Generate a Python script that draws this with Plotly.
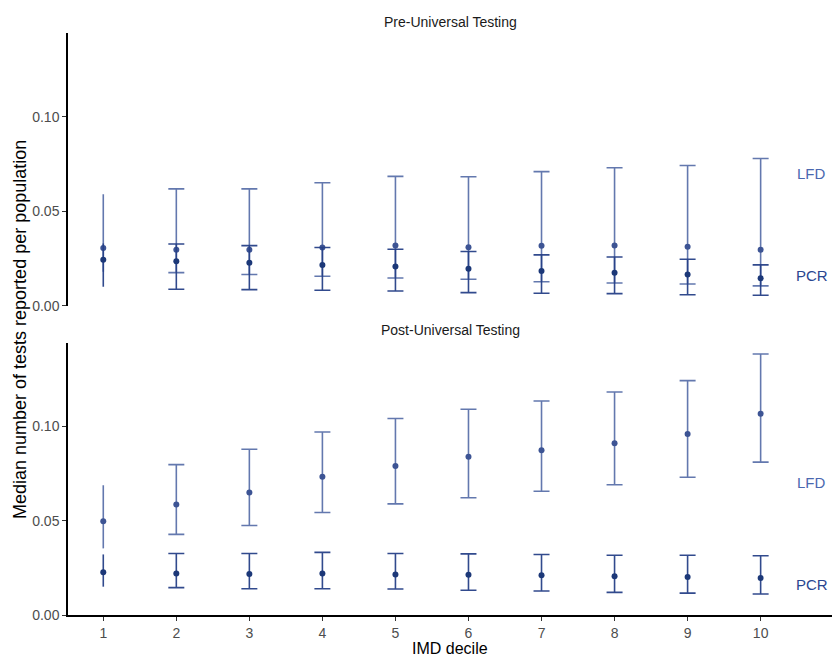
import plotly.graph_objects as go

deciles = [1, 2, 3, 4, 5, 6, 7, 8, 9, 10]
tick_labels = ["1", "2", "3", "4", "5", "6", "7", "8", "9", "10"]

# Pre-Universal Testing
pre_lfd_med = [0.0305, 0.0296, 0.0296, 0.0308, 0.0319, 0.0310, 0.0317, 0.0319, 0.0312, 0.0297]
pre_lfd_lo = [0.0180, 0.0175, 0.0165, 0.0156, 0.0147, 0.0140, 0.0127, 0.0120, 0.0115, 0.0105]
pre_lfd_hi = [0.0591, 0.0619, 0.0619, 0.0651, 0.0685, 0.0683, 0.0710, 0.0731, 0.0743, 0.0780]
pre_pcr_med = [0.0243, 0.0236, 0.0227, 0.0216, 0.0207, 0.0196, 0.0184, 0.0175, 0.0165, 0.0145]
pre_pcr_lo = [0.0101, 0.0087, 0.0085, 0.0082, 0.0078, 0.0069, 0.0066, 0.0064, 0.0058, 0.0055]
pre_pcr_hi = [0.0330, 0.0327, 0.0318, 0.0308, 0.0299, 0.0287, 0.0269, 0.0258, 0.0246, 0.0216]

# Post-Universal Testing
post_lfd_med = [0.0497, 0.0586, 0.0649, 0.0732, 0.0790, 0.0838, 0.0873, 0.0910, 0.0959, 0.1067]
post_lfd_lo = [0.0353, 0.0427, 0.0474, 0.0543, 0.0589, 0.0621, 0.0656, 0.0690, 0.0730, 0.0810]
post_lfd_hi = [0.0688, 0.0797, 0.0878, 0.0970, 0.1041, 0.1090, 0.1134, 0.1182, 0.1242, 0.1383]
post_pcr_med = [0.0226, 0.0220, 0.0217, 0.0220, 0.0215, 0.0213, 0.0210, 0.0205, 0.0201, 0.0196]
post_pcr_lo = [0.0150, 0.0145, 0.0139, 0.0139, 0.0138, 0.0131, 0.0127, 0.0120, 0.0116, 0.0111]
post_pcr_hi = [0.0321, 0.0326, 0.0326, 0.0332, 0.0326, 0.0324, 0.0321, 0.0317, 0.0317, 0.0314]

series_labels = ["LFD", "PCR"]
label_y = [0.070, 0.016]
label_x = 10.7

LFD_BAR = "rgba(72,96,160,0.85)"
LFD_PT = "#3d5494"
PCR_BAR = "rgba(38,64,135,0.95)"
PCR_PT = "#1c3878"

fig = go.Figure()


def add_series(med, lo, hi, xa, ya, bar_col, pt_col):
    for idx_set, w in (([0], 0), (list(range(1, len(deciles))), 8)):
        xs = [deciles[i] for i in idx_set]
        ys = [med[i] for i in idx_set]
        plus = [hi[i] - med[i] for i in idx_set]
        minus = [med[i] - lo[i] for i in idx_set]
        fig.add_trace(go.Scatter(
            x=xs, y=ys, mode="markers", xaxis=xa, yaxis=ya,
            marker=dict(color=pt_col, size=6),
            error_y=dict(type="data", symmetric=False, array=plus, arrayminus=minus,
                         color=bar_col, thickness=1.6, width=w),
            showlegend=False, hoverinfo="skip"))


add_series(pre_lfd_med, pre_lfd_lo, pre_lfd_hi, "x", "y", LFD_BAR, LFD_PT)
add_series(pre_pcr_med, pre_pcr_lo, pre_pcr_hi, "x", "y", PCR_BAR, PCR_PT)
add_series(post_lfd_med, post_lfd_lo, post_lfd_hi, "x2", "y2", LFD_BAR, LFD_PT)
add_series(post_pcr_med, post_pcr_lo, post_pcr_hi, "x2", "y2", PCR_BAR, PCR_PT)

font_fam = "Arial, Liberation Sans, sans-serif"
label_cols = ["#4a68b0", "#2a4690"]
for xa, ya in (("x", "y"), ("x2", "y2")):
    for name, yv, col in zip(series_labels, label_y, label_cols):
        fig.add_annotation(x=label_x, y=yv, xref=xa, yref=ya, text=name, showarrow=False,
                           font=dict(family=font_fam, size=15, color=col),
                           xanchor="center", yanchor="middle")

W, H = 832, 656
L = 68
pre_dom = [(H - 305.7) / H, (H - 33.3) / H]
post_dom = [(H - 615.0) / H, (H - 342.7) / H]
xr = [0.517, 10.977]
yr = [0, 0.1443]

yax = dict(range=yr, showline=True, linecolor="black", linewidth=1.5, ticks="outside",
           ticklen=4, tickcolor="#333", tickwidth=1.2, tickvals=[0, 0.05, 0.10],
           ticktext=["0.00", "0.05", "0.10"], showgrid=False, zeroline=False,
           tickfont=dict(family=font_fam, size=14, color="#4d4d4d"), automargin=False)

fig.update_layout(
    width=W, height=H, plot_bgcolor="white", paper_bgcolor="white",
    margin=dict(l=L, r=0, t=0, b=0),
    xaxis=dict(domain=[0, 1], range=xr, anchor="y", showline=False, showticklabels=False,
               ticks="", showgrid=False, zeroline=False),
    yaxis=dict(domain=pre_dom, anchor="x", **yax),
    xaxis2=dict(domain=[0, 1], range=xr, anchor="y2", showline=True, linecolor="black",
                linewidth=1.5, ticks="outside", ticklen=4, tickcolor="#333", tickwidth=1.2,
                tickvals=deciles, ticktext=tick_labels, showgrid=False, zeroline=False,
                tickfont=dict(family=font_fam, size=14, color="#4d4d4d"), automargin=False),
    yaxis2=dict(domain=post_dom, anchor="x2", **yax),
)

fig.add_annotation(x=0.5, y=1 - 21.7 / H, xref="paper", yref="paper", text="Pre-Universal Testing",
                   showarrow=False, font=dict(family=font_fam, size=14, color="#1a1a1a"),
                   xanchor="center", yanchor="middle")
fig.add_annotation(x=0.5, y=1 - 330 / H, xref="paper", yref="paper", text="Post-Universal Testing",
                   showarrow=False, font=dict(family=font_fam, size=14, color="#1a1a1a"),
                   xanchor="center", yanchor="middle")
fig.add_annotation(x=(20 - L) / (W - L), y=1 - 330 / H, xref="paper", yref="paper",
                   text="Median number of tests reported per population", textangle=-90,
                   showarrow=False, font=dict(family=font_fam, size=18, color="black"),
                   xanchor="center", yanchor="middle")
fig.add_annotation(x=0.5, y=1 - 648 / H, xref="paper", yref="paper", text="IMD decile",
                   showarrow=False, font=dict(family=font_fam, size=16, color="black"),
                   xanchor="center", yanchor="middle")

fig.write_html("out.html", post_script="document.body.style.margin='0';",
               config={"displayModeBar": False})
